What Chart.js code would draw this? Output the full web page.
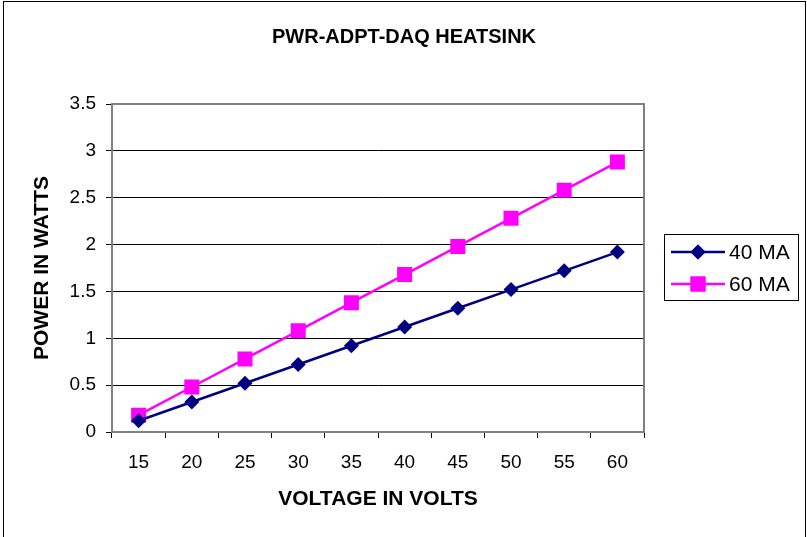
<!DOCTYPE html>
<html><head><meta charset="utf-8">
<script src="https://cdn.jsdelivr.net/npm/chart.js@4"></script>
<style>html,body{margin:0;padding:0;background:#fff}#wrap{width:807px;height:537px;position:relative}</style>
</head><body><div id="wrap"><canvas id="c" width="807" height="537"></canvas></div>
<script>
const categories = ['15','20','25','30','35','40','45','50','55','60'];
const series40 = [0.12,0.32,0.52,0.72,0.92,1.12,1.32,1.52,1.72,1.92];
const series60 = [0.18,0.48,0.78,1.08,1.38,1.68,1.98,2.28,2.58,2.88];
const seriesLabels = ['40 MA','60 MA'];
const yMin = 0, yMax = 3.5, yStep = 0.5;
const chartTitle = 'PWR-ADPT-DAQ HEATSINK';
const xTitle = 'VOLTAGE IN VOLTS';
const yTitle = 'POWER IN WATTS';

const FONT = '"Liberation Sans", Arial, sans-serif';
const GREY = '#808080';

const decor = {
  id: 'decor',
  afterDraw(chart) {
    const ctx = chart.ctx, a = chart.chartArea;
    ctx.save();
    ctx.strokeStyle = '#000'; ctx.lineWidth = 1;
    ctx.strokeRect(3.5, 1.5, 802, 545);
    ctx.strokeStyle = GREY; ctx.lineWidth = 2;
    ctx.beginPath();
    ctx.moveTo(a.left, a.top); ctx.lineTo(a.right, a.top); ctx.lineTo(a.right, a.bottom);
    ctx.stroke();
    ctx.fillStyle = '#000';
    ctx.font = 'bold 20px ' + FONT;
    ctx.textAlign = 'center'; ctx.textBaseline = 'middle';
    ctx.fillText(chartTitle, 404, 37);
    ctx.strokeStyle = '#000'; ctx.lineWidth = 1;
    ctx.strokeRect(664.5, 234.5, 134, 66);
    const rows = [252, 284];
    chart.data.datasets.forEach((ds, i) => {
      const y = rows[i];
      ctx.strokeStyle = ds.borderColor; ctx.lineWidth = 2.5;
      ctx.beginPath(); ctx.moveTo(671, y); ctx.lineTo(725, y); ctx.stroke();
      ctx.fillStyle = ds.backgroundColor;
      Chart.helpers.drawPoint(ctx, {pointStyle: ds.pointStyle, radius: ds.pointRadius, rotation: 0, borderWidth: 0}, 698, y);
      ctx.fill();
      ctx.fillStyle = '#000';
      ctx.font = '21px ' + FONT;
      ctx.textAlign = 'left'; ctx.textBaseline = 'middle';
      ctx.fillText(ds.label, 729, y + 1);
    });
    ctx.restore();
  }
};

new Chart(document.getElementById('c'), {
  type: 'line',
  data: {
    labels: categories,
    datasets: [
      {label: seriesLabels[0], data: series40, borderColor: '#000080', backgroundColor: '#000080',
       borderWidth: 2.5, pointStyle: 'rectRot', pointRadius: 7.5, pointHoverRadius: 7.5, pointBorderWidth: 0, tension: 0},
      {label: seriesLabels[1], data: series60, borderColor: '#FF00FF', backgroundColor: '#FF00FF',
       borderWidth: 2.5, pointStyle: 'rect', pointRadius: 10.6, pointHoverRadius: 10.6, pointBorderWidth: 0, tension: 0}
    ]
  },
  options: {
    responsive: false, animation: false, devicePixelRatio: 1,
    layout: {padding: {left: 0, top: 104, right: 163, bottom: 0}},
    plugins: {legend: {display: false}, title: {display: false}, tooltip: {enabled: false}},
    scales: {
      x: {
        offset: true,
        grid: {offset: true, drawOnChartArea: false, tickLength: 6, color: '#000', tickColor: '#000'},
        border: {display: true, color: GREY, width: 2},
        ticks: {color: '#000', font: {family: FONT, size: 19}, padding: 13, maxRotation: 0, autoSkip: false},
        title: {display: true, text: xTitle, color: '#000', font: {family: FONT, size: 21, weight: 'bold'}, padding: {top: 0, bottom: 25}},
        afterFit(s) { s.height = 105; }
      },
      y: {
        min: yMin, max: yMax,
        grid: {color: '#000', tickLength: 6, tickColor: '#000', lineWidth: 1},
        border: {display: true, color: GREY, width: 2},
        ticks: {stepSize: yStep, color: '#000', font: {family: FONT, size: 19}, padding: 10,
                callback: v => String(v)},
        title: {display: true, text: yTitle, color: '#000', font: {family: FONT, size: 21, weight: 'bold'}, padding: {top: 30, bottom: 0}},
        afterFit(s) { s.width = 112; }
      }
    }
  },
  plugins: [decor]
});
</script></body></html>
